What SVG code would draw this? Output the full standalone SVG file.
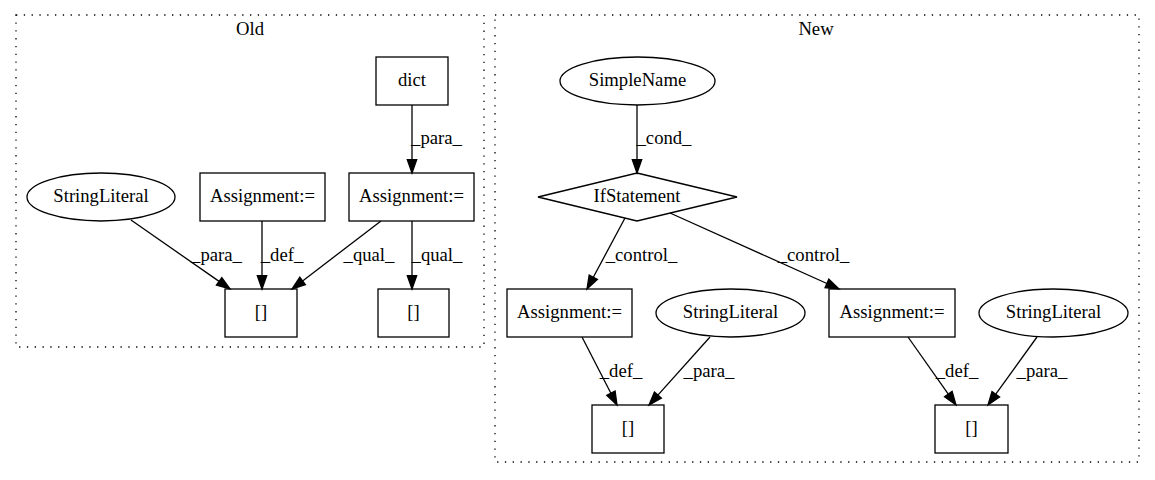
<svg xmlns="http://www.w3.org/2000/svg" width="1155" height="480" viewBox="0 0 1155 480">
<style>
text{font-family:"Liberation Serif","Times New Roman",serif;font-size:18.67px;fill:#000;text-anchor:middle}
.node rect,.node ellipse,.node polygon{fill:none;stroke:#000;stroke-width:1.3}
.cluster{fill:none;stroke:#000;stroke-width:1.3;stroke-dasharray:1.3,6.5}
.edges line{stroke:#000;stroke-width:1.3}
.edges polygon{fill:#000;stroke:#000;stroke-width:1.3}
</style>
<rect width="1155" height="480" fill="#fff"/>
<g id="cluster_old">
<rect class="cluster" x="16" y="15" width="468" height="332"/>
<text x="250" y="35">Old</text>
</g>
<g id="cluster_new">
<rect class="cluster" x="495" y="15" width="644" height="447"/>
<text x="816" y="35">New</text>
</g>
<g id="old_dict" class="node"><rect x="376" y="57" width="72" height="48"/><text x="412" y="86">dict</text></g>
<g id="old_assign_m" class="node"><rect x="200" y="173" width="125" height="48"/><text x="262.5" y="202">Assignment:=</text></g>
<g id="old_assign_r" class="node"><rect x="349" y="173" width="125" height="48"/><text x="411.5" y="202">Assignment:=</text></g>
<g id="old_string" class="node"><ellipse cx="101" cy="197" rx="74" ry="24"/><text x="101" y="202">StringLiteral</text></g>
<g id="old_idx_l" class="node"><rect x="225" y="289" width="72" height="48"/><text x="261" y="318">[]</text></g>
<g id="old_idx_r" class="node"><rect x="378" y="289" width="71" height="48"/><text x="413.5" y="318">[]</text></g>
<g id="new_simplename" class="node"><ellipse cx="637.5" cy="81" rx="77.5" ry="24"/><text x="637.5" y="86">SimpleName</text></g>
<g id="new_if" class="node"><polygon points="637,173 737,197 637,221 538,197"/><text x="637" y="202">IfStatement</text></g>
<g id="new_assign_l" class="node"><rect x="507" y="289" width="125" height="48"/><text x="569.5" y="318">Assignment:=</text></g>
<g id="new_string_1" class="node"><ellipse cx="730.5" cy="313" rx="74.5" ry="24"/><text x="730.5" y="318">StringLiteral</text></g>
<g id="new_assign_r" class="node"><rect x="829" y="289" width="126" height="48"/><text x="892" y="318">Assignment:=</text></g>
<g id="new_string_2" class="node"><ellipse cx="1053.5" cy="313" rx="74.5" ry="24"/><text x="1053.5" y="318">StringLiteral</text></g>
<g id="new_idx_1" class="node"><rect x="592" y="405" width="72" height="48"/><text x="628" y="434">[]</text></g>
<g id="new_idx_2" class="node"><rect x="935" y="405" width="73" height="48"/><text x="971.5" y="434">[]</text></g>
<g id="edges" class="edges">
<line x1="412" y1="105" x2="412" y2="159.7"/><polygon points="407.3,159.7 416.7,159.7 412,173"/><text x="436.5" y="144">_para_</text>
<line x1="131" y1="220" x2="219.1" y2="281.4"/><polygon points="216.4,285.2 221.8,277.6 230,289"/><text x="216.5" y="261">_para_</text>
<line x1="262" y1="221" x2="262" y2="275.7"/><polygon points="257.3,275.7 266.7,275.7 262,289"/><text x="282" y="261">_def_</text>
<line x1="381" y1="221" x2="302.6" y2="280.9"/><polygon points="299.8,277.2 305.4,284.6 292,289"/><text x="369" y="261">_qual_</text>
<line x1="412" y1="221" x2="412" y2="275.7"/><polygon points="407.3,275.7 416.7,275.7 412,289"/><text x="437" y="261">_qual_</text>
<line x1="637" y1="105" x2="637" y2="159.7"/><polygon points="632.3,159.7 641.7,159.7 637,173"/><text x="664" y="144">_cond_</text>
<line x1="625" y1="218" x2="593.3" y2="277.3"/><polygon points="589.2,275.1 597.4,279.5 587,289"/><text x="641.5" y="261">_control_</text>
<line x1="670" y1="213" x2="826.9" y2="283.5"/><polygon points="825,287.8 828.8,279.2 839,289"/><text x="813.5" y="261">_control_</text>
<line x1="582" y1="337" x2="610.9" y2="393.2"/><polygon points="606.8,395.3 615.1,391.1 617,405"/><text x="621" y="377">_def_</text>
<line x1="710" y1="337" x2="657.9" y2="395.1"/><polygon points="654.4,392 661.4,398.2 649,405"/><text x="709" y="377">_para_</text>
<line x1="908" y1="337" x2="948.3" y2="394.1"/><polygon points="944.5,396.8 952.1,391.4 956,405"/><text x="957" y="377">_def_</text>
<line x1="1037" y1="337" x2="995.8" y2="394.2"/><polygon points="992,391.5 999.6,396.9 988,405"/><text x="1042" y="377">_para_</text>
</g>
</svg>
